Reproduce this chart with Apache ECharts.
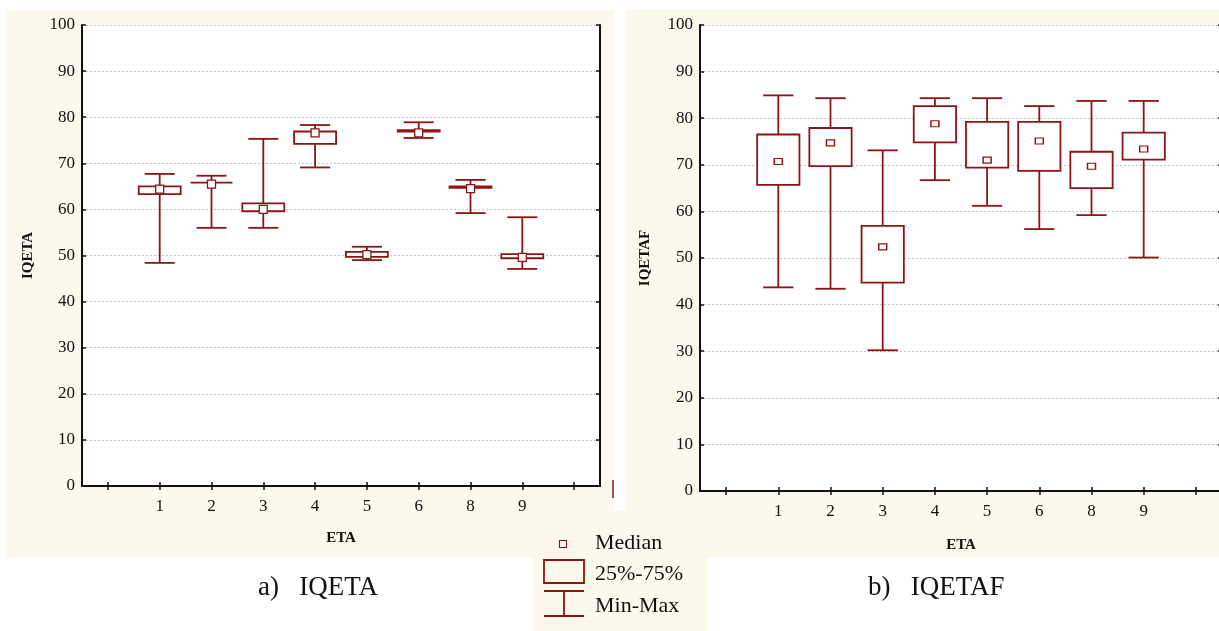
<!DOCTYPE html>
<html>
<head>
<meta charset="utf-8">
<script src="https://cdn.jsdelivr.net/npm/echarts@6/dist/echarts.min.js"></script>
<style>
  html, body { margin: 0; padding: 0; background: #ffffff; }
  #chart { width: 1219px; height: 631px; }
</style>
</head>
<body>
<div id="chart"></div>
<script>
// Category axis: one empty slot on each side of the ETA groups
const categories = ['', '1', '2', '3', '4', '5', '6', '8', '9', ''];
const groups = ['1', '2', '3', '4', '5', '6', '8', '9'];

// IQETA by ETA group
const iqetaMin    = [48.4, 56.0, 56.0, 69.1, 49.0, 75.5, 59.2, 47.1];
const iqetaQ1     = [63.3, 65.8, 59.6, 74.2, 49.7, 76.9, 64.7, 49.4];
const iqetaMedian = [64.4, 65.5, 60.0, 76.6, 50.2, 76.6, 64.5, 49.6];
const iqetaQ3     = [65.0, 65.8, 61.3, 76.9, 50.8, 77.2, 65.0, 50.3];
const iqetaMax    = [67.7, 67.3, 75.3, 78.3, 51.9, 78.9, 66.4, 58.3];

// IQETAF by ETA group
const iqetafMin    = [43.7, 43.4, 30.2, 66.7, 61.2, 56.2, 59.2, 50.1];
const iqetafQ1     = [65.7, 69.7, 44.7, 74.8, 69.4, 68.7, 65.0, 71.1];
const iqetafMedian = [70.7, 74.7, 52.4, 78.8, 71.0, 75.1, 69.7, 73.4];
const iqetafQ3     = [76.5, 77.9, 56.9, 82.6, 79.2, 79.2, 72.8, 76.9];
const iqetafMax    = [84.9, 84.3, 73.1, 84.3, 84.3, 82.6, 83.7, 83.7];

const yMin = 0, yMax = 100, yStep = 10;

const RED = '#8c1414';
const CREAM = '#fdf8ec';
const SERIF = '"Liberation Serif", "Times New Roman", serif';

function boxRows(mins, q1s, meds, q3s, maxs) {
  return groups.map((g, i) => [categories.indexOf(g), mins[i], q1s[i], meds[i], q3s[i], maxs[i]]);
}
function medianRows(meds) {
  return groups.map((g, i) => [categories.indexOf(g), meds[i]]);
}

// Whiskers with caps, then a white-filled 25%-75% box on top
function renderBox(params, api) {
  const x = api.value(0);
  const pMin = api.coord([x, api.value(1)]);
  const pQ1 = api.coord([x, api.value(2)]);
  const pQ3 = api.coord([x, api.value(4)]);
  const pMax = api.coord([x, api.value(5)]);
  const band = api.size([1, 0])[0];
  const bw = band * 0.81;
  const cw = band * 0.58;
  const cx = pMin[0];
  const line = { stroke: RED, lineWidth: 1.8 };
  return {
    type: 'group',
    children: [
      { type: 'line', shape: { x1: cx, y1: pMax[1], x2: cx, y2: pMin[1] }, style: line },
      { type: 'line', shape: { x1: cx - cw / 2, y1: pMax[1], x2: cx + cw / 2, y2: pMax[1] }, style: line },
      { type: 'line', shape: { x1: cx - cw / 2, y1: pMin[1], x2: cx + cw / 2, y2: pMin[1] }, style: line },
      { type: 'rect', shape: { x: cx - bw / 2, y: pQ3[1], width: bw, height: pQ1[1] - pQ3[1] },
        style: { fill: '#ffffff', stroke: RED, lineWidth: 1.8 } }
    ]
  };
}

function xAxes(gridIndex, nameGap) {
  const tick = { show: true, inside: true, length: 4, alignWithLabel: true, interval: 0,
                 lineStyle: { color: '#111', width: 1.5 } };
  return [
    {
      type: 'category', gridIndex: gridIndex, data: categories, boundaryGap: true, position: 'bottom',
      axisLine: { show: true, lineStyle: { color: '#111', width: 2 } },
      axisTick: tick,
      axisLabel: { interval: 0, margin: 12, color: '#111', fontFamily: SERIF, fontSize: 17 },
      splitLine: { show: false },
      name: 'ETA', nameLocation: 'middle', nameGap: nameGap,
      nameTextStyle: { color: '#111', fontFamily: SERIF, fontSize: 15, fontWeight: 'bold' }
    },
    {
      type: 'category', gridIndex: gridIndex, data: categories, boundaryGap: true, position: 'top',
      axisLine: { show: true, lineStyle: { color: '#111', width: 2 } },
      axisTick: tick,
      axisLabel: { show: false },
      splitLine: { show: false }
    }
  ];
}

function yAxes(gridIndex, name, nameGap) {
  const tick = { show: true, inside: true, length: 4, lineStyle: { color: '#111', width: 1.5 } };
  return [
    {
      type: 'value', gridIndex: gridIndex, min: yMin, max: yMax, interval: yStep, position: 'left',
      axisLine: { show: true, lineStyle: { color: '#111', width: 2 } },
      axisTick: tick,
      axisLabel: { margin: 7, color: '#111', fontFamily: SERIF, fontSize: 17 },
      splitLine: { show: true, lineStyle: { color: '#c4c4c4', width: 1, type: [2, 2] } },
      name: name, nameLocation: 'middle', nameGap: nameGap, nameRotate: 90,
      nameTextStyle: { color: '#111', fontFamily: SERIF, fontSize: 15, fontWeight: 'bold' }
    },
    {
      type: 'value', gridIndex: gridIndex, min: yMin, max: yMax, interval: yStep, position: 'right',
      axisLine: { show: true, lineStyle: { color: '#111', width: 2 } },
      axisTick: tick,
      axisLabel: { show: false },
      splitLine: { show: false }
    }
  ];
}

function panelSeries(xIndex, yIndex, rows, meds, markSize) {
  return [
    {
      type: 'custom', xAxisIndex: xIndex, yAxisIndex: yIndex, z: 2,
      renderItem: renderBox, data: rows,
      encode: { x: 0, y: [1, 2, 3, 4, 5] }, silent: true
    },
    {
      type: 'scatter', xAxisIndex: xIndex, yAxisIndex: yIndex, z: 3,
      symbol: 'rect', symbolSize: markSize, data: meds, silent: true,
      itemStyle: { color: '#ffffff', borderColor: RED, borderWidth: 1.3, opacity: 1 }
    }
  ];
}

const chart = echarts.init(document.getElementById('chart'), null, { renderer: 'canvas' });

const option = {
  backgroundColor: '#ffffff',
  animation: false,
  grid: [
    { left: 82, top: 25, width: 518, height: 461, show: true, backgroundColor: '#ffffff', borderWidth: 0,
      outerBoundsMode: 'none' },
    { left: 700, top: 25, width: 522, height: 466, show: true, backgroundColor: '#ffffff', borderWidth: 0,
      outerBoundsMode: 'none' }
  ],
  xAxis: [].concat(xAxes(0, 45), xAxes(1, 47)),
  yAxis: [].concat(yAxes(0, 'IQETA', 46), yAxes(1, 'IQETAF', 47)),
  series: [].concat(
    panelSeries(0, 0, boxRows(iqetaMin, iqetaQ1, iqetaMedian, iqetaQ3, iqetaMax), medianRows(iqetaMedian), [8, 8]),
    panelSeries(2, 2, boxRows(iqetafMin, iqetafQ1, iqetafMedian, iqetafQ3, iqetafMax), medianRows(iqetafMedian), [8, 6])
  ),
  graphic: [
    // panel backgrounds
    { type: 'rect', z: -10, shape: { x: 7, y: 10, width: 606, height: 548 }, style: { fill: CREAM } },
    { type: 'rect', z: -10, shape: { x: 625, y: 9, width: 594, height: 549 }, style: { fill: CREAM } },
    { type: 'rect', z: -10, shape: { x: 533, y: 511, width: 174, height: 120 }, style: { fill: CREAM } },
    // stray legend stroke at the panel edge
    { type: 'line', z: 5, shape: { x1: 613, y1: 480, x2: 613, y2: 498 }, style: { stroke: RED, lineWidth: 1.5 } },
    // legend
    { type: 'rect', z: 5, shape: { x: 559.5, y: 540.5, width: 7, height: 7 },
      style: { fill: '#ffffff', stroke: RED, lineWidth: 1.2 } },
    { type: 'text', z: 5, x: 595, y: 543, style: { text: 'Median', fill: '#111', font: '22px ' + SERIF, textVerticalAlign: 'middle' } },
    { type: 'rect', z: 5, shape: { x: 544, y: 560, width: 40, height: 23 },
      style: { fill: 'none', stroke: RED, lineWidth: 1.8 } },
    { type: 'text', z: 5, x: 595, y: 574, style: { text: '25%-75%', fill: '#111', font: '22px ' + SERIF, textVerticalAlign: 'middle' } },
    { type: 'line', z: 5, shape: { x1: 544, y1: 591, x2: 584, y2: 591 }, style: { stroke: RED, lineWidth: 1.8 } },
    { type: 'line', z: 5, shape: { x1: 544, y1: 616, x2: 584, y2: 616 }, style: { stroke: RED, lineWidth: 1.8 } },
    { type: 'line', z: 5, shape: { x1: 564, y1: 591, x2: 564, y2: 616 }, style: { stroke: RED, lineWidth: 1.8 } },
    { type: 'text', z: 5, x: 595, y: 606, style: { text: 'Min-Max', fill: '#111', font: '22px ' + SERIF, textVerticalAlign: 'middle' } },
    // panel captions
    { type: 'text', z: 5, x: 258, y: 588, style: { text: 'a)   IQETA', fill: '#111', font: '27px ' + SERIF, textVerticalAlign: 'middle' } },
    { type: 'text', z: 5, x: 868, y: 588, style: { text: 'b)   IQETAF', fill: '#111', font: '27px ' + SERIF, textVerticalAlign: 'middle' } }
  ]
};

chart.setOption(option);
</script>
</body>
</html>
